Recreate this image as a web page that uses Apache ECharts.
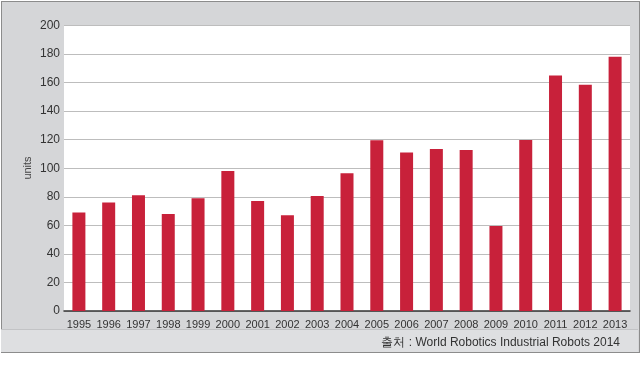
<!DOCTYPE html>
<html>
<head>
<meta charset="utf-8">
<script src="https://cdn.jsdelivr.net/npm/echarts@6/dist/echarts.min.js"></script>
<style>
html,body{margin:0;padding:0;background:#fff;width:643px;height:365px;overflow:hidden;}
#box{position:absolute;left:1px;top:1px;width:637px;height:350px;background:#d5d6d8;border:1px solid #8c8c8c;}
#band{position:absolute;left:1px;top:329px;width:637px;height:22px;background:#dedfe1;border-top:1px solid #c2c3c5;}
#chart{position:absolute;left:0;top:0;width:643px;height:365px;}
</style>
</head>
<body>
<div id="box"></div>
<div id="band"></div>
<div id="chart"></div>
<script>
var categories = ['1995','1996','1997','1998','1999','2000','2001','2002','2003','2004','2005','2006','2007','2008','2009','2010','2011','2012','2013'];
var values = [69, 76, 81, 68, 79, 98, 77, 67, 80.5, 96.5, 119.5, 111, 113.5, 112.8, 59.5, 119.8, 165, 158.5, 178];
var yTicks = {min: 0, max: 200, interval: 20};
var sourceText = '출처 : World Robotics Industrial Robots 2014';
var axisName = 'units';

var chart = echarts.init(document.getElementById('chart'), null, {renderer: 'canvas'});
var labelFont = '"Liberation Sans Narrow", "Liberation Sans", Arial, sans-serif';
chart.setOption({
  backgroundColor: 'transparent',
  animation: false,
  grid: {left: 64, right: 13, top: 25.4, bottom: 54, show: true, backgroundColor: '#ffffff', borderWidth: 0},
  xAxis: {
    type: 'category',
    data: categories,
    axisLine: {lineStyle: {color: '#333', width: 1.5}},
    axisTick: {show: false},
    axisLabel: {color: '#333', fontSize: 11, fontFamily: labelFont, margin: 8, interval: 0, hideOverlap: false}
  },
  yAxis: {
    type: 'value',
    min: yTicks.min, max: yTicks.max, interval: yTicks.interval,
    axisLine: {show: false},
    axisTick: {show: false},
    axisLabel: {color: '#333', fontSize: 12, fontFamily: labelFont, margin: 4},
    splitLine: {lineStyle: {color: '#bdbdbd', width: 1}}
  },
  series: [{
    type: 'bar',
    data: values,
    barWidth: 13,
    itemStyle: {color: '#c8213a'}
  }],
  graphic: [{
    type: 'text',
    right: 23,
    top: 337,
    style: {text: sourceText, fill: '#333', fontSize: 12, fontFamily: labelFont}
  }, {
    type: 'text',
    x: 28,
    y: 168,
    rotation: Math.PI / 2,
    style: {text: axisName, fill: '#444', fontSize: 11, fontFamily: labelFont, align: 'center', verticalAlign: 'middle'}
  }]
});
</script>
</body>
</html>
